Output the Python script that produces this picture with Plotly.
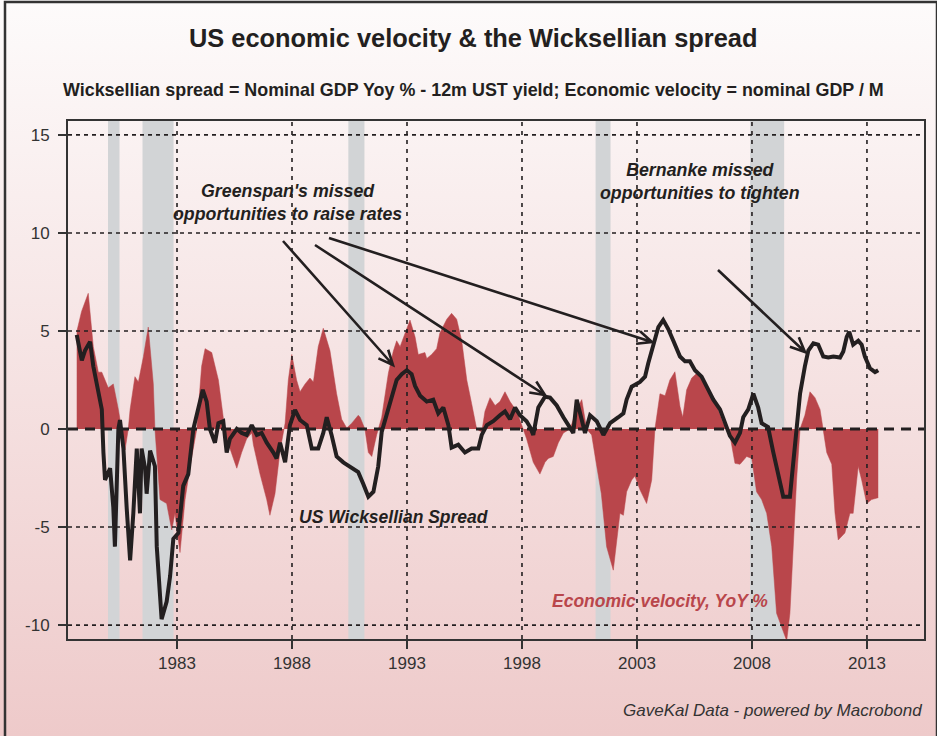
import base64
import math
import plotly.graph_objects as go

# ---------------- data (decimal years) ----------------
vel_x = [1978.64, 1978.85, 1979.14, 1979.36, 1979.58, 1979.73, 1980.01, 1980.23, 1980.45, 1980.6,
         1980.74, 1980.88, 1980.96, 1981.17, 1981.32, 1981.54, 1981.75, 1981.97, 1982.04, 1982.26,
         1982.55, 1982.77, 1982.91, 1983.13, 1983.35, 1983.57, 1983.86, 1984.07, 1984.22, 1984.51,
         1984.8, 1985.01, 1985.16, 1985.45, 1985.6, 1985.81, 1986.03, 1986.25, 1986.32, 1986.61,
         1986.9, 1987.04, 1987.26, 1987.48, 1987.7, 1987.84, 1987.99, 1988.2, 1988.35, 1988.57,
         1988.78, 1988.93, 1989.14, 1989.36, 1989.65, 1989.94, 1990.16, 1990.38, 1990.6, 1990.88,
         1990.96, 1991.17, 1991.32, 1991.47, 1991.68, 1991.9, 1992.19, 1992.4, 1992.55, 1992.7,
         1992.91, 1993.13, 1993.35, 1993.49, 1993.78, 1993.86, 1994.07, 1994.29, 1994.43, 1994.73,
         1994.94, 1995.16, 1995.38, 1995.6, 1995.81, 1996.03, 1996.25, 1996.39, 1996.61, 1996.83,
         1997.04, 1997.26, 1997.48, 1997.77, 1997.99, 1998.2, 1998.49, 1998.78, 1999.0, 1999.14,
         1999.36, 1999.58, 1999.8, 2000.09, 2000.38, 2000.6, 2000.81, 2001.03, 2001.25, 2001.45,
         2001.68, 2001.97, 2002.12, 2002.26, 2002.41, 2002.55, 2002.77, 2002.91, 2003.13, 2003.42,
         2003.64, 2003.78, 2004.0, 2004.22, 2004.43, 2004.65, 2004.87, 2004.99, 2005.16, 2005.38,
         2005.6, 2005.88, 2006.17, 2006.46, 2006.75, 2007.04, 2007.26, 2007.48, 2007.77, 2007.99,
         2008.2, 2008.42, 2008.64, 2008.86, 2009.07, 2009.36, 2009.51, 2009.65, 2009.8, 2009.94,
         2010.09, 2010.3, 2010.52, 2010.74, 2010.96, 2011.1, 2011.25, 2011.47, 2011.61, 2011.75,
         2012.04, 2012.26, 2012.4, 2012.62, 2012.77, 2012.99, 2013.2, 2013.49]
vel_y = [4.96, 6.0, 6.92, 4.2, 2.9, 2.9, 2.1, 2.3, 1.0, 0.0,
         -1.07, 0.0, 1.0, 2.67, 2.4, 3.7, 5.2, 2.3, 0.0, -3.6,
         -3.8, -5.15, -4.3, -6.3, -3.6, -1.9, 0.0, 3.2, 4.1, 3.9,
         2.5, 0.6, -0.5, -1.5, -2.0, -1.2, -0.5, -0.2, -0.8, -2.3,
         -3.6, -4.4, -3.3, -1.1, 0.3, 2.5, 3.8, 2.5, 1.9, 2.3,
         2.6, 2.4, 4.2, 5.14, 4.0, 1.8, 0.5, 0.05, 0.3, 0.7,
         0.6, 0.0, -1.2, -1.4, -0.3, 0.6, 2.85, 3.95, 4.5, 4.2,
         4.9, 5.56, 4.7, 3.8, 3.9, 3.6, 3.8, 4.1, 4.9, 5.6,
         5.9, 5.6, 4.5, 2.5, 1.3, 0.0, -0.15, 0.9, 1.6, 1.2,
         1.4, 1.9, 1.4, 0.9, 0.2, -0.5, -1.7, -2.3, -1.7, -1.5,
         -1.4, -0.7, -0.2, 0.0, 1.0, 1.5, 0.0, -0.3, -1.9, -3.3,
         -6.0, -7.2, -5.7, -4.3, -4.4, -3.2, -2.6, -2.4, -3.1, -3.8,
         -2.6, 0.0, 1.8, 1.7, 2.5, 2.92, 1.15, 0.6, 2.0, 2.6,
         2.84, 2.5, 1.8, 1.2, 0.3, -0.3, -1.75, -1.8, -1.4, -1.5,
         -3.2, -3.6, -4.3, -6.0, -9.4, -10.4, -10.8, -9.4, -6.0, -2.6,
         0.0, 0.7, 1.9, 1.6, 1.0, 0.0, -1.2, -1.8, -4.3, -5.66,
         -5.3, -4.3, -4.3, -1.9, -2.6, -3.8, -3.6, -3.5]

spr_x = [1978.64, 1978.86, 1979.0, 1979.22, 1979.36, 1979.51, 1979.73, 1979.8, 1979.87, 1980.09,
         1980.23, 1980.3, 1980.45, 1980.52, 1980.67, 1980.81, 1980.96, 1981.1, 1981.25, 1981.39,
         1981.46, 1981.61, 1981.68, 1981.83, 1982.04, 1982.12, 1982.26, 1982.33, 1982.55, 1982.7,
         1982.84, 1983.06, 1983.27, 1983.49, 1983.71, 1983.93, 1984.12, 1984.29, 1984.43, 1984.65,
         1984.8, 1985.01, 1985.16, 1985.3, 1985.6, 1985.81, 1986.03, 1986.25, 1986.47, 1986.68,
         1986.9, 1987.19, 1987.33, 1987.48, 1987.7, 1987.91, 1988.13, 1988.35, 1988.64, 1988.86,
         1989.14, 1989.36, 1989.51, 1989.72, 1989.94, 1990.23, 1990.52, 1990.88, 1991.1, 1991.32,
         1991.54, 1991.75, 1991.9, 1992.12, 1992.33, 1992.55, 1992.77, 1992.99, 1993.2, 1993.35,
         1993.57, 1993.86, 1994.14, 1994.36, 1994.58, 1994.8, 1994.94, 1995.23, 1995.52, 1995.81,
         1996.1, 1996.25, 1996.47, 1996.75, 1997.04, 1997.26, 1997.48, 1997.7, 1997.91, 1998.2,
         1998.35, 1998.49, 1998.71, 1999.0, 1999.22, 1999.51, 1999.8, 2000.01, 2000.23, 2000.38,
         2000.6, 2000.74, 2000.96, 2001.25, 2001.54, 2001.83, 2002.19, 2002.41, 2002.55, 2002.77,
         2003.13, 2003.35, 2003.49, 2003.71, 2003.93, 2004.14, 2004.36, 2004.58, 2004.87, 2005.09,
         2005.3, 2005.52, 2005.81, 2006.03, 2006.32, 2006.61, 2006.83, 2007.04, 2007.26, 2007.48,
         2007.62, 2007.84, 2008.06, 2008.27, 2008.42, 2008.7, 2008.93, 2009.14, 2009.36, 2009.65,
         2009.8, 2009.94, 2010.09, 2010.3, 2010.45, 2010.67, 2010.88, 2011.1, 2011.32, 2011.54,
         2011.83, 2011.97, 2012.12, 2012.23, 2012.4, 2012.62, 2012.77, 2012.91, 2013.13, 2013.35,
         2013.49]
spr_y = [4.8, 3.5, 4.0, 4.45, 3.2, 2.2, 1.0, -1.2, -2.6, -2.0,
         -4.0, -6.0, 0.0, 0.46, -1.0, -4.0, -6.7, -4.3, -1.0, -4.3,
         -1.0, -2.0, -3.3, -1.1, -1.9, -6.0, -8.4, -9.7, -8.8, -7.5,
         -5.6, -5.3, -2.9, -2.3, 0.0, 1.14, 2.0, 1.4, 0.0, -0.7,
         0.3, 0.4, -1.2, -0.5, 0.0, -0.2, -0.3, 0.2, -0.3, -0.2,
         -0.7, -1.2, -1.5, -0.7, -1.7, 0.2, 0.97, 0.46, 0.2, -1.0,
         -1.0, -0.2, 0.6, -0.3, -1.4, -1.7, -1.9, -2.2, -2.8, -3.45,
         -3.2, -1.9, -0.15, 0.7, 1.5, 2.5, 2.8, 3.0, 2.8, 2.2,
         1.7, 1.4, 1.5, 0.8, 1.1, 0.2, -0.95, -0.8, -1.2, -1.0,
         -1.0, -0.3, 0.2, 0.4, 0.7, 0.9, 0.5, 1.1, 0.7, 0.4,
         0.1, -0.3, 1.1, 1.65, 1.6, 1.2, 0.6, 0.2, -0.2, 1.5,
         0.4, -0.2, 0.7, 0.4, -0.3, 0.3, 0.6, 0.8, 1.5, 2.16,
         2.4, 2.67, 3.35, 4.2, 5.2, 5.56, 5.1, 4.5, 3.7, 3.45,
         3.45, 3.0, 2.67, 2.16, 1.5, 1.0, 0.3, -0.35, -0.7, -0.2,
         0.6, 1.0, 1.8, 1.1, 0.3, 0.1, -1.2, -2.4, -3.45, -3.45,
         -1.8, 0.0, 1.8, 3.2, 4.0, 4.37, 4.3, 3.7, 3.65, 3.7,
         3.65, 3.95, 4.7, 4.96, 4.3, 4.5, 4.3, 3.7, 3.1, 2.9,
         3.0]

rec_start = [1980.0, 1981.5, 1990.45, 2001.2, 2007.92]
rec_end = [1980.5, 1982.85, 1991.15, 2001.85, 2009.4]

x_ticks = [1983, 1988, 1993, 1998, 2003, 2008, 2013]
x_tick_labels = [str(v) for v in x_ticks]
y_ticks = [-10, -5, 0, 5, 10, 15]
y_tick_labels = ["-10", "-5", "0", "5", "10", "15"]

# ---------------- layout constants ----------------
W, H = 937, 736
ML, MR, MT, MB = 68, 13, 121, 97
PW, PH = W - ML - MR, H - MT - MB
X_RANGE = [1978.26, 2015.48]
Y_RANGE = [-10.71, 15.71]

FONT = "Liberation Sans, Arial, Helvetica, sans-serif"
INK = "#231f20"
RED = "#b9464b"
BAND = "#d2d4d6"


def px2x(px):
    return X_RANGE[0] + (px - ML) / PW * (X_RANGE[1] - X_RANGE[0])


def py2y(py):
    return Y_RANGE[1] - (py - MT) / PH * (Y_RANGE[1] - Y_RANGE[0])


def ppx(px):
    return (px - ML) / PW


def ppy(py):
    return (H - MB - py) / PH


fig = go.Figure()

fig.add_trace(go.Scatter(x=vel_x, y=vel_y, mode="lines", fill="tozeroy",
                         fillcolor=RED, line=dict(color=RED, width=0.5),
                         hoverinfo="skip", showlegend=False))
fig.add_trace(go.Scatter(x=spr_x, y=spr_y, mode="lines",
                         line=dict(color=INK, width=4),
                         hoverinfo="skip", showlegend=False))

shapes = []
# recession bands
for a, b in zip(rec_start, rec_end):
    shapes.append(dict(type="rect", xref="x", yref="paper", x0=a, x1=b, y0=0, y1=1,
                       fillcolor=BAND, line=dict(width=0), layer="below"))
# grid
for yv in y_ticks:
    if yv == 0:
        shapes.append(dict(type="line", xref="paper", yref="y", x0=0, x1=1, y0=0, y1=0,
                           line=dict(color=INK, width=3, dash="10px,7px"), layer="above"))
    else:
        shapes.append(dict(type="line", xref="paper", yref="y", x0=0, x1=1, y0=yv, y1=yv,
                           line=dict(color=INK, width=1.6, dash="4px,4px"), layer="above"))
for xv in x_ticks:
    shapes.append(dict(type="line", xref="x", yref="paper", x0=xv, x1=xv, y0=0, y1=1,
                       line=dict(color=INK, width=1.6, dash="4px,5px"), layer="above"))


# arrows (pixel geometry -> data coords)
def arrow(p0, p1, size=16, ang=24):
    (x0, y0), (x1, y1) = p0, p1
    th = math.atan2(y0 - y1, x0 - x1)
    pts = []
    for s in (-1, 1):
        a = th + s * math.radians(ang)
        pts.append((x1 + size * math.cos(a), y1 + size * math.sin(a)))
    path = (f"M{px2x(x0)},{py2y(y0)} L{px2x(x1)},{py2y(y1)} "
            f"M{px2x(pts[0][0])},{py2y(pts[0][1])} L{px2x(x1)},{py2y(y1)} "
            f"L{px2x(pts[1][0])},{py2y(pts[1][1])}")
    return dict(type="path", xref="x", yref="y", path=path,
                line=dict(color=INK, width=2.6), layer="above")


shapes.append(arrow((283, 241), (393, 365)))
shapes.append(arrow((315, 245), (545, 395)))
shapes.append(arrow((329, 238), (652, 342)))
shapes.append(arrow((718, 270), (805, 352)))

# outer frame
shapes.append(dict(type="rect", xref="paper", yref="paper",
                   x0=ppx(5), x1=ppx(937), y0=ppy(760), y1=ppy(2),
                   line=dict(color="#333333", width=2.5), fillcolor="rgba(0,0,0,0)", layer="above"))

# background gradient image
svg = ('<svg xmlns="http://www.w3.org/2000/svg" width="937" height="736" preserveAspectRatio="none">'
       '<defs><linearGradient id="g" x1="0" y1="0" x2="0" y2="1">'
       '<stop offset="0" stop-color="#fdfbfb"/><stop offset="1" stop-color="#eecaca"/>'
       '</linearGradient></defs><rect width="937" height="736" fill="url(#g)"/></svg>')
src = "data:image/svg+xml;base64," + base64.b64encode(svg.encode()).decode()

annotations = [
    dict(text="<b>US economic velocity & the Wicksellian spread</b>", xref="paper", yref="paper",
         x=ppx(473), y=ppy(38), showarrow=False, xanchor="center", yanchor="middle",
         font=dict(family=FONT, size=25.4, color=INK)),
    dict(text="<b>Wicksellian spread = Nominal GDP Yoy % - 12m UST yield; Economic velocity = nominal GDP / M</b>",
         xref="paper", yref="paper", x=ppx(473), y=ppy(90), showarrow=False,
         xanchor="center", yanchor="middle", font=dict(family=FONT, size=17.9, color=INK)),
    dict(text="<b><i>Greenspan's missed<br>opportunities to raise rates</i></b>", x=px2x(287), y=py2y(202),
         showarrow=False, xanchor="center", yanchor="middle", align="center",
         font=dict(family=FONT, size=17.8, color=INK)),
    dict(text="<b><i>Bernanke missed<br>opportunities to tighten</i></b>", x=px2x(700), y=py2y(181),
         showarrow=False, xanchor="center", yanchor="middle", align="center",
         font=dict(family=FONT, size=17.8, color=INK)),
    dict(text="<b><i>US Wicksellian Spread</i></b>", x=px2x(393), y=py2y(517),
         showarrow=False, xanchor="center", yanchor="middle",
         font=dict(family=FONT, size=17.5, color=INK)),
    dict(text="<b><i>Economic velocity, YoY %</i></b>", x=px2x(660), y=py2y(601),
         showarrow=False, xanchor="center", yanchor="middle",
         font=dict(family=FONT, size=17.5, color=RED)),
    dict(text="<i>GaveKal Data - powered by Macrobond</i>", xref="paper", yref="paper",
         x=ppx(924), y=ppy(710), showarrow=False, xanchor="right", yanchor="middle",
         font=dict(family=FONT, size=17, color="#333333")),
]

fig.update_layout(
    width=W, height=H,
    margin=dict(l=ML, r=MR, t=MT, b=MB, pad=0),
    paper_bgcolor="#f4e2e2",
    plot_bgcolor="rgba(0,0,0,0)",
    shapes=shapes,
    annotations=annotations,
    images=[dict(source=src, xref="paper", yref="paper", x=-ML / PW, y=1 + MT / PH,
                 sizex=W / PW, sizey=H / PH, xanchor="left", yanchor="top",
                 sizing="stretch", layer="below")],
    xaxis=dict(range=X_RANGE, tickvals=x_ticks, ticktext=x_tick_labels, showgrid=False,
               zeroline=False, showline=True, linecolor="#333333", linewidth=2, mirror=True,
               ticks="outside", ticklen=8, tickwidth=1.5, tickcolor="#333333",
               tickfont=dict(family=FONT, size=17, color="#333333")),
    yaxis=dict(range=Y_RANGE, tickvals=y_ticks, ticktext=y_tick_labels, showgrid=False,
               zeroline=False, showline=True, linecolor="#333333", linewidth=2, mirror=True,
               ticks="outside", ticklen=8, tickwidth=1.5, tickcolor="#333333",
               ticklabelstandoff=5,
               tickfont=dict(family=FONT, size=17, color="#333333")),
    showlegend=False,
    hovermode=False,
)

fig.write_html("out.html", config={"displayModeBar": False, "staticPlot": True},
               post_script="document.body.style.margin='0';document.body.style.overflow='hidden';")
